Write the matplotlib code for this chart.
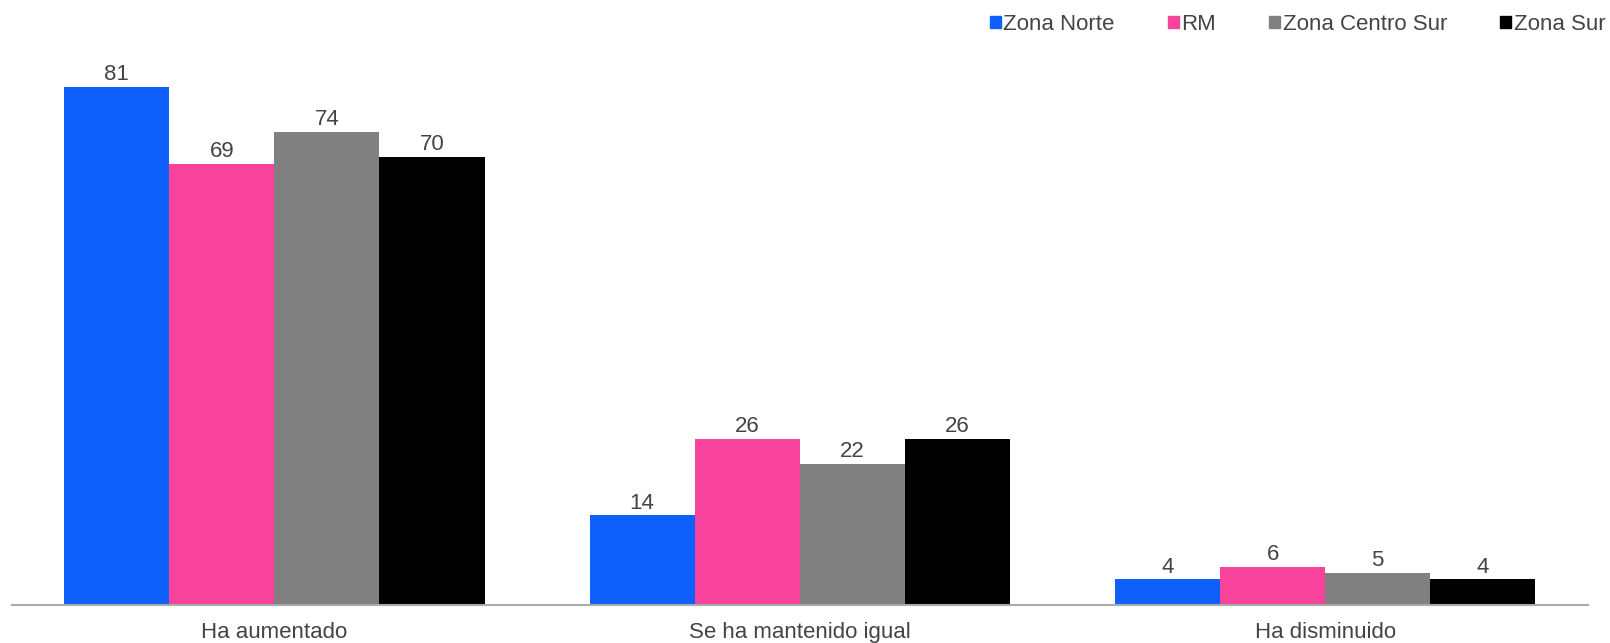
import numpy as np
import matplotlib.pyplot as plt
from matplotlib.patches import Patch

plt.rcParams['font.family'] = ['Liberation Sans', 'DejaVu Sans']

categorias = ['Ha aumentado', 'Se ha mantenido igual', 'Ha disminuido']
zonas = ['Zona Norte', 'RM', 'Zona Centro Sur', 'Zona Sur']
zona_norte = [81, 14, 4]
rm = [69, 26, 6]
centro_sur = [74, 22, 5]
zona_sur = [70, 26, 4]
colores = ['#0F5FFA', '#F7439B', '#808080', '#000000']

series = [zona_norte, rm, centro_sur, zona_sur]

fig = plt.figure(figsize=(16.1, 6.43), dpi=100)
ax = fig.add_axes([0.0073, 0.0591, 0.9789, 0.895])

x = np.arange(len(categorias))
w = 0.2
for i, vals in enumerate(series):
    pos = x + (i - 1.5) * w
    ax.bar(pos, vals, width=w, color=colores[i], edgecolor='none', zorder=2)
    for p, v in zip(pos, vals):
        ax.text(p, v + 0.3, str(v), ha='center', va='bottom', fontsize=16, color='#444444')

ax.set_xlim(-0.5, 2.5)
ax.set_ylim(0, 90)
ax.set_yticks([])
ax.set_xticks(x)
ax.set_xticklabels(categorias, fontsize=16, color='#444444')
ax.tick_params(axis='x', length=0, pad=12)
for s in ['top', 'right', 'left']:
    ax.spines[s].set_visible(False)
ax.spines['bottom'].set_color('#AAAAAA')
ax.spines['bottom'].set_linewidth(1.5)

handles = [Patch(color=c, label=z) for c, z in zip(colores, zonas)]
fig.legend(handles=handles, loc='center right', bbox_to_anchor=(0.997, 0.962), ncol=4,
           frameon=False, fontsize=16, handlelength=0.5, handleheight=0.5,
           handletextpad=0.1, columnspacing=2.4, labelcolor='#444444',
           borderaxespad=0, borderpad=0)

fig.savefig('out.png', dpi=100)
